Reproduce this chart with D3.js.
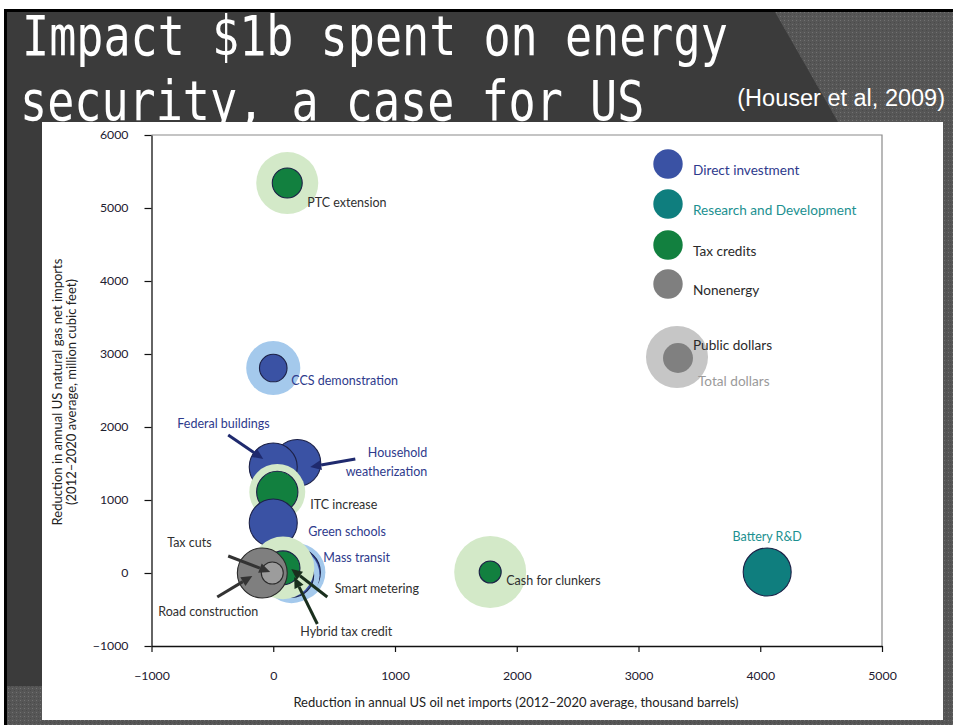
<!DOCTYPE html>
<html><head><meta charset="utf-8">
<script src="https://cdn.jsdelivr.net/npm/d3@7"></script>
<style>
html,body{margin:0;padding:0;background:#fff;}
svg{display:block;}
</style></head>
<body>
<svg id="c" width="953" height="725"></svg>
<script>
// ---------- DATA ----------
const categories = ["Direct investment", "Research and Development", "Tax credits", "Nonenergy"];
const xTicks = [-1000, 0, 1000, 2000, 3000, 4000, 5000];
const yTicks = [-1000, 0, 1000, 2000, 3000, 4000, 5000, 6000];
// programs drawn back to front
const names    = ["PTC extension","CCS demonstration","Household weatherization","Federal buildings","ITC increase","Green schools","Mass transit","Smart metering","Hybrid tax credit","Road construction","Tax cuts","Cash for clunkers","Battery R&D"];
const category = ["Tax credits","Direct investment","Direct investment","Direct investment","Tax credits","Direct investment","Direct investment","Direct investment","Tax credits","Nonenergy","Nonenergy","Tax credits","Research and Development"];
const oilReduction = [115, 0, 197, 0, 33, 0, 190, 150, 80, -90, -8, 1782, 4057];
const gasReduction = [5342, 2808, 1507, 1452, 1110, 685, 10, -30, 70, 0, 0, 14, 14];
const publicDollars = [0.39, 0.33, 0.96, 1.0, 0.74, 1.0, 1.0, 0.85, 0.5, 1.08, 0.21, 0.21, 1.0];
const totalDollars  = [1.67, 1.27, 0.96, 1.0, 1.36, 1.0, 1.46, 1.36, 1.7, 1.08, 0.21, 2.25, 1.0];

// labels (anchor in data units)
const labelText = ["PTC extension","CCS demonstration","Federal buildings","Household","weatherization","ITC increase","Green schools","Mass transit","Smart metering","Hybrid tax credit","Tax cuts","Road construction","Cash for clunkers","Battery R&D"];
const labelCat  = ["Tax credits","Direct investment","Direct investment","Direct investment","Direct investment","Tax credits","Direct investment","Direct investment","Tax credits","Tax credits","Nonenergy","Nonenergy","Tax credits","Research and Development"];
const labelX = [279, 148, -788, 1265, 1265, 304, 288, 411, 505, 222, -871, -944, 1914, 4057];
const labelY = [5014, 2575, 1986, 1589, 1329, 877, 507, 151, -274, -863, 356, -589, -164, 438];
const labelAnchor = ["start","start","start","end","end","start","start","start","start","start","start","start","start","middle"];

// arrows (from -> to, data units)
const arrowFrom = [[-370,1890],[674,1562],[-370,233],[-460,-329],[444,-329],[362,-699]];
const arrowTo   = [[-82,1562],[304,1452],[-25,14],[-172,-41],[148,55],[172,-55]];
const arrowCat  = ["Direct investment","Direct investment","Nonenergy","Nonenergy","Tax credits","Tax credits"];

// ---------- STYLES ----------
const fillC  = {"Direct investment":"#3a52a4","Research and Development":"#0f7e7e","Tax credits":"#12803f","Nonenergy":"#7f7f7f"};
const haloC  = {"Direct investment":"#a4c9ec","Research and Development":"#9fd3d3","Tax credits":"#d3e9c8","Nonenergy":"#c6c6c6"};
const textC  = {"Direct investment":"#2e3a8c","Research and Development":"#1b9090","Tax credits":"#2f2f2f","Nonenergy":"#2f2f2f"};
const arrowC = {"Direct investment":"#1f2a6e","Research and Development":"#0f5e5e","Tax credits":"#1a2f1e","Nonenergy":"#333333"};
const FONT = "Lato, 'Open Sans', sans-serif";

const svg = d3.select("#c");
const defs = svg.append("defs");
const pat = defs.append("pattern").attr("id","tex").attr("width",4).attr("height",4).attr("patternUnits","userSpaceOnUse");
pat.append("rect").attr("width",4).attr("height",4).attr("fill","#565656");
pat.append("rect").attr("width",1).attr("height",1).attr("fill","#727272");
pat.append("rect").attr("x",2).attr("y",2).attr("width",1).attr("height",1).attr("fill","#4a4a4a");
defs.append("clipPath").attr("id","titleClip").append("rect").attr("x",0).attr("y",0).attr("width",953).attr("height",122);

// slide background
svg.append("rect").attr("x",4).attr("y",9).attr("width",949).attr("height",716).attr("fill","#3b3b3b");
svg.append("polygon").attr("points","775,12 953,12 953,122 838,122").attr("fill","url(#tex)");
svg.append("rect").attr("x",943).attr("y",122).attr("width",10).attr("height",603).attr("fill","url(#tex)");
svg.append("rect").attr("x",4).attr("y",686).attr("width",949).attr("height",39).attr("fill","url(#tex)");
svg.append("rect").attr("x",4).attr("y",9).attr("width",949).attr("height",3).attr("fill","#000");
svg.append("rect").attr("x",4).attr("y",9).attr("width",3).attr("height",716).attr("fill","#000");

// title
const titleLines = ["Impact $1b spent on energy", "security, a case for US"];
const tt = [[22,55],[20,120]];
const gT = svg.append("g").attr("clip-path","url(#titleClip)");
titleLines.forEach((t,i)=>{
  gT.append("text").attr("transform",`translate(${tt[i][0]},${tt[i][1]}) scale(0.82,1)`)
    .attr("font-family","'DejaVu Sans Mono', monospace").attr("font-size",55).attr("fill","#fff")
    .style("white-space","pre").text(t);
});
svg.append("text").attr("x",945).attr("y",106).attr("text-anchor","end")
  .attr("font-family","'Liberation Sans', Arial, sans-serif").attr("font-size",23.5).attr("fill","#fff")
  .text("(Houser et al, 2009)");

// white panel
svg.append("rect").attr("x",42).attr("y",122).attr("width",901).attr("height",598).attr("fill","#fff");

// scales
const x = d3.scaleLinear().domain([-1000,5000]).range([151.5,882]);
const y = d3.scaleLinear().domain([-1000,6000]).range([646,135]);
const r = d3.scaleSqrt().domain([0,1]).range([0,24]);

// frame
svg.append("path").attr("d",`M${x(-1000)},${y(6000)}H${x(5000)}V${y(-1000)}`).attr("fill","none").attr("stroke","#8a8a8a").attr("stroke-width",1.2);

const fmt = d => d < 0 ? "\u2212" + Math.abs(d) : String(d);
const gx = svg.append("g").attr("transform",`translate(0,${y(-1000)})`)
  .call(d3.axisBottom(x).tickValues(xTicks).tickSize(6).tickSizeOuter(0).tickPadding(19).tickFormat(fmt));
const gy = svg.append("g").attr("transform",`translate(${x(-1000)},0)`)
  .call(d3.axisLeft(y).tickValues(yTicks).tickSize(7).tickSizeOuter(0).tickPadding(16).tickFormat(fmt));
[gx,gy].forEach(g=>{
  g.select(".domain").attr("stroke","#111").attr("stroke-width",1.3);
  g.selectAll(".tick line").attr("stroke","#111").attr("stroke-width",1.2);
  g.selectAll("text").attr("font-family",FONT).attr("font-size",12.3).attr("fill","#1e2030");
});

// axis titles
svg.append("text").attr("x",516).attr("y",707).attr("text-anchor","middle").attr("font-family",FONT).attr("font-size",13).attr("fill","#222")
  .text("Reduction in annual US oil net imports (2012\u20132020 average, thousand barrels)");
const yt = svg.append("text").attr("transform","translate(62,392) rotate(-90)").attr("text-anchor","middle").attr("font-family",FONT).attr("font-size",13).attr("fill","#222");
yt.append("tspan").attr("x",0).attr("y",0).text("Reduction in annual US natural gas net imports");
yt.append("tspan").attr("x",0).attr("y",14).text("(2012\u20132020 average, million cubic feet)");

// bubbles
const data = names.map((n,i)=>({name:n, cat:category[i], ox:oilReduction[i], gy:gasReduction[i], pub:publicDollars[i], tot:totalDollars[i]}));
const gB = svg.append("g");
data.forEach(d=>{
  if (d.tot > d.pub) {
    gB.append("circle").attr("cx",x(d.ox)).attr("cy",y(d.gy)).attr("r",r(d.tot)).attr("fill",haloC[d.cat]);
  }
  gB.append("circle").attr("cx",x(d.ox)).attr("cy",y(d.gy)).attr("r",r(d.pub))
    .attr("fill", d.name==="Tax cuts" ? "#9c9c9c" : fillC[d.cat])
    .attr("stroke", d.cat==="Nonenergy" ? "#2a2a2a" : "#1c2147").attr("stroke-width",1.1);
});

// arrows
const gA = svg.append("g");
arrowFrom.forEach((f,i)=>{
  const x1=x(f[0]), y1=y(f[1]), x2=x(arrowTo[i][0]), y2=y(arrowTo[i][1]);
  const ang=Math.atan2(y2-y1,x2-x1), L=11, W=5;
  const bx=x2-L*Math.cos(ang), by=y2-L*Math.sin(ang);
  gA.append("line").attr("x1",x1).attr("y1",y1).attr("x2",bx).attr("y2",by).attr("stroke",arrowC[arrowCat[i]]).attr("stroke-width",3);
  const p=[[x2,y2],[bx+W*Math.sin(ang),by-W*Math.cos(ang)],[bx-W*Math.sin(ang),by+W*Math.cos(ang)]];
  gA.append("polygon").attr("points",p.map(q=>q.join(",")).join(" ")).attr("fill",arrowC[arrowCat[i]]);
});

// labels
const gL = svg.append("g");
labelText.forEach((t,i)=>{
  gL.append("text").attr("x",x(labelX[i])).attr("y",y(labelY[i])).attr("text-anchor",labelAnchor[i])
    .attr("font-family",FONT).attr("font-size",12.5).attr("fill",textC[labelCat[i]]).text(t);
});

// legend
const lg = svg.append("g");
categories.forEach((c,i)=>{
  const cy = [164,204,245,284][i];
  lg.append("circle").attr("cx",668).attr("cy",cy).attr("r",14.7).attr("fill",fillC[c]);
  lg.append("text").attr("x",693).attr("y",cy+11).attr("font-family",FONT).attr("font-size",13.6)
    .attr("fill", c==="Direct investment" ? "#2e3a8c" : c==="Research and Development" ? "#1b9090" : "#2a2a2a").text(c);
});
lg.append("circle").attr("cx",677).attr("cy",357).attr("r",r(1.67)).attr("fill","#c6c6c6");
lg.append("circle").attr("cx",678).attr("cy",358).attr("r",r(0.39)).attr("fill","#808080");
lg.append("text").attr("x",693).attr("y",350).attr("font-family",FONT).attr("font-size",13.6).attr("fill","#2a2a2a").text("Public dollars");
lg.append("text").attr("x",698).attr("y",386).attr("font-family",FONT).attr("font-size",13.6).attr("fill","#9a9a9a").text("Total dollars");
</script>
</body></html>
